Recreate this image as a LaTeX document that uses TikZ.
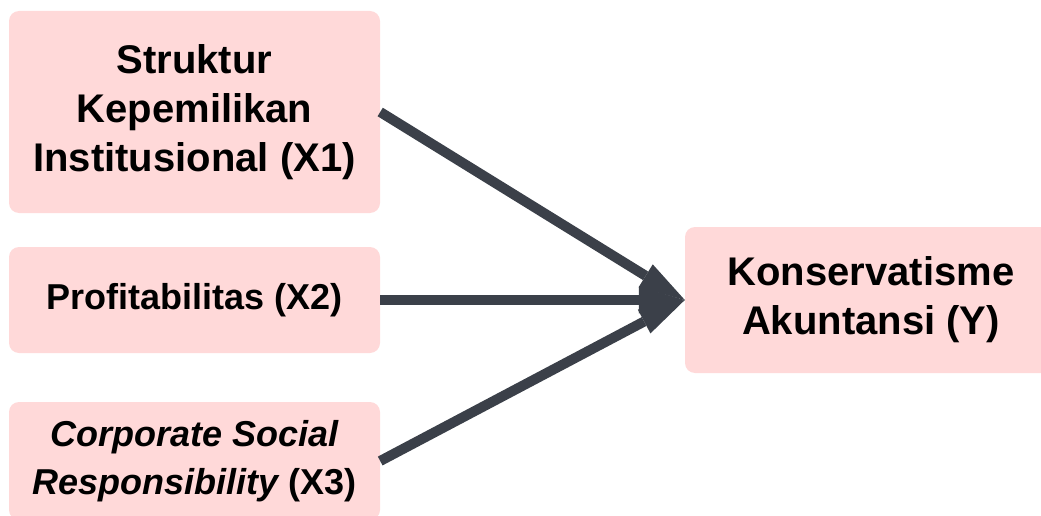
\documentclass[tikz,border=0pt]{standalone}
\usepackage{fontspec}
\setmainfont{Liberation Sans}
\usetikzlibrary{arrows.meta}
\definecolor{boxpink}{HTML}{FFD9D9}
\definecolor{arrowgray}{HTML}{3B4049}
\begin{document}
\begin{tikzpicture}[x=1pt,y=-1pt,
  box/.style={fill=boxpink, rounded corners=10pt, align=center, inner sep=0pt},
  bigtext/.style={font=\bfseries\fontsize{40}{49}\selectfont},
  smalltext/.style={font=\bfseries\fontsize{36}{48}\selectfont},
  link/.style={draw=arrowgray, line width=10pt, -{Triangle[length=46pt,width=27pt,line width=0pt]}}]
\useasboundingbox (0,0) rectangle (1041,516);
\node[box, bigtext, minimum width=371pt, minimum height=202pt] (x1) at (194.5,112) {Struktur\\Kepemilikan\\Institusional (X1)};
\node[box, smalltext, minimum width=371pt, minimum height=106pt] (x2) at (194.5,300) {Profitabilitas (X2)};
\node[box, smalltext, minimum width=371pt, minimum height=118pt] (x3) at (194.5,461) {\itshape Corporate Social\\\itshape Responsibility\upshape{} (X3)};
\node[box, bigtext, minimum width=372pt, minimum height=146pt] (y) at (871,300) {Konservatisme\\Akuntansi (Y)};
\draw[link] (x1.east) -- (y.west);
\draw[link] (x2.east) -- (y.west);
\draw[link] (x3.east) -- (y.west);
\end{tikzpicture}
\end{document}
